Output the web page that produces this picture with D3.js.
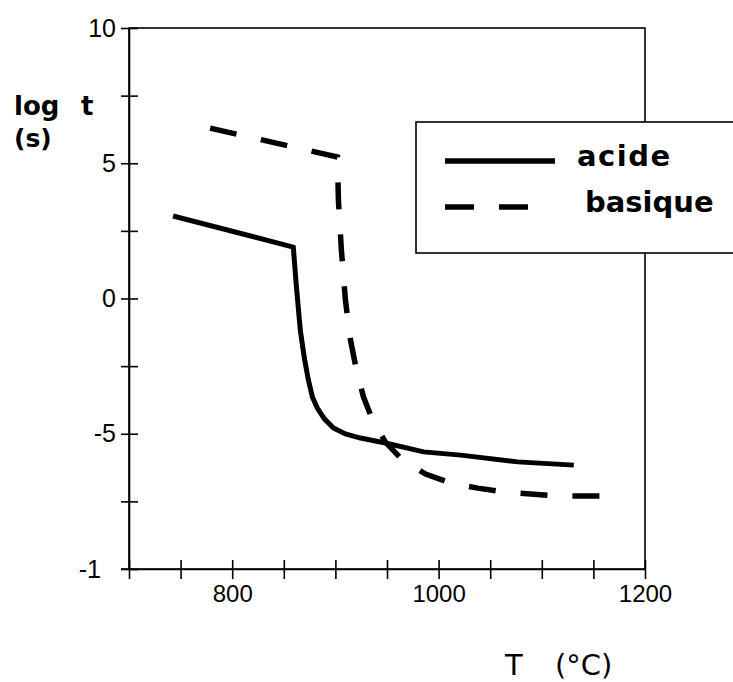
<!DOCTYPE html>
<html>
<head>
<meta charset="utf-8">
<script src="https://cdn.jsdelivr.net/npm/d3@7"></script>
<style>
  body { margin: 0; background: #fff; }
  svg { display: block; }
</style>
</head>
<body>
<div class="chart"></div>
<script>
// values (T in °C, log t in s)
var acideT = [742.7, 859.2, 862.1, 866.0, 869.9, 873.8, 877.7, 882.5, 889.3, 898.1, 909.7, 924.3, 948.5, 985.4, 1021.4, 1076.7, 1131];
var acideLog = [3.05, 1.90, 0.49, -1.17, -2.20, -3.01, -3.64, -4.05, -4.45, -4.79, -5.01, -5.16, -5.34, -5.67, -5.79, -6.04, -6.16];

var basiqueT = [778.6, 902, 902.9, 905.8, 909.7, 914.6, 920.4, 927.2, 935.9, 948.5, 965, 987.4, 1011.7, 1037.9, 1063.1, 1115.5, 1167];
var basiqueLog = [6.30, 5.23, 3.64, 1.79, -0.06, -1.53, -2.64, -3.64, -4.49, -5.31, -5.97, -6.49, -6.82, -7.01, -7.15, -7.30, -7.30];

var xTicks = [700, 750, 800, 850, 900, 950, 1000, 1050, 1100, 1150, 1200];
var xTickLabels = {800: "800", 1000: "1000", 1200: "1200"};
var yTicks = [-10, -7.5, -5, -2.5, 0, 2.5, 5, 7.5, 10];
var yTickLabels = {"10": "10", "5": "5", "0": "0", "-5": "-5", "-10": "-1"};

var legendNames = ["acide", "basique"];

var svgWidth = 733, svgHeight = 682;
var margin = {top: 28, left: 129, right: 88, bottom: 113};
var width = svgWidth - margin.left - margin.right;
var height = svgHeight - margin.top - margin.bottom;

var svg = d3.select(".chart").append("svg")
  .attr("width", svgWidth)
  .attr("height", svgHeight);

svg.append("rect").attr("width", svgWidth).attr("height", svgHeight).attr("fill", "#fff");

var chartGroup = svg.append("g")
  .attr("transform", `translate(${margin.left}, ${margin.top})`);

var xScale = d3.scaleLinear().domain([700, 1200]).range([0, width]);
var yScale = d3.scaleLinear().domain([-10, 10]).range([height, 0]);

// frame
chartGroup.append("rect")
  .attr("width", width)
  .attr("height", height)
  .attr("fill", "none")
  .attr("stroke", "#000")
  .attr("stroke-width", 1.6);

// y axis
var yAxis = d3.axisLeft(yScale)
  .tickValues(yTicks)
  .tickSizeInner(8)
  .tickSizeOuter(0)
  .tickPadding(5)
  .tickFormat(d => yTickLabels[String(d)] || "");

var yG = chartGroup.append("g").call(yAxis);
yG.select(".domain").attr("stroke-width", 1.6);
yG.selectAll(".tick line").attr("x1", 9).attr("stroke-width", 1.6);
yG.selectAll(".tick text")
  .attr("font-family", "'Liberation Sans', Arial, sans-serif")
  .attr("font-size", 25)
  .attr("fill", "#000")
  .attr("dx", d => d === -10 ? -15 : 0);

// x axis
var xAxis = d3.axisBottom(xScale)
  .tickValues(xTicks)
  .tickSizeInner(10)
  .tickSizeOuter(0)
  .tickPadding(6)
  .tickFormat(d => xTickLabels[d] || "");

var xG = chartGroup.append("g")
  .attr("transform", `translate(0, ${height})`)
  .call(xAxis);
xG.select(".domain").attr("stroke-width", 1.6);
xG.selectAll(".tick line").attr("y1", -9).attr("stroke-width", 1.6);
xG.selectAll(".tick text")
  .attr("font-family", "'Liberation Sans', Arial, sans-serif")
  .attr("font-size", 24)
  .attr("fill", "#000");

// extend x axis a little left of the y axis
chartGroup.append("line")
  .attr("x1", -8).attr("x2", 0)
  .attr("y1", height).attr("y2", height)
  .attr("stroke", "#000").attr("stroke-width", 1.6);

// curves
var line = d3.line()
  .x(d => xScale(d[0]))
  .y(d => yScale(d[1]));

var acide = acideT.map((t, i) => [t, acideLog[i]]);
var basique = basiqueT.map((t, i) => [t, basiqueLog[i]]);

chartGroup.append("path")
  .datum(basique)
  .attr("d", line)
  .attr("fill", "none")
  .attr("stroke", "#000")
  .attr("stroke-width", 5.5)
  .attr("stroke-dasharray", "27,25");

chartGroup.append("path")
  .datum(acide)
  .attr("d", line)
  .attr("fill", "none")
  .attr("stroke", "#000")
  .attr("stroke-width", 5)
  .attr("stroke-linejoin", "miter");

// legend box
var legend = svg.append("g").attr("transform", "translate(416, 122)");
legend.append("rect")
  .attr("width", 330)
  .attr("height", 131)
  .attr("fill", "#fff")
  .attr("stroke", "#000")
  .attr("stroke-width", 1.6);

legend.append("line")
  .attr("x1", 29).attr("x2", 139)
  .attr("y1", 39).attr("y2", 39)
  .attr("stroke", "#000").attr("stroke-width", 5.5);

legend.append("line")
  .attr("x1", 29).attr("x2", 112)
  .attr("y1", 85).attr("y2", 85)
  .attr("stroke", "#000").attr("stroke-width", 5.5)
  .attr("stroke-dasharray", "29,25");

legend.selectAll("text.name")
  .data(legendNames)
  .enter()
  .append("text")
  .attr("class", "name")
  .attr("x", (d, i) => i === 0 ? 161 : 169)
  .attr("y", (d, i) => i === 0 ? 44 : 90)
  .attr("font-family", "'DejaVu Sans', sans-serif")
  .attr("font-weight", "bold")
  .attr("font-size", 29)
  .attr("letter-spacing", (d, i) => i === 0 ? 1.5 : 0)
  .attr("fill", "#000")
  .text(d => d);

// axis titles
var titleFont = "'DejaVu Sans', sans-serif";
svg.append("text")
  .attr("x", 14).attr("y", 115)
  .attr("font-family", titleFont)
  .attr("font-weight", "bold")
  .attr("font-size", 26)
  .text("log");
svg.append("text")
  .attr("x", 81).attr("y", 115)
  .attr("font-family", titleFont)
  .attr("font-weight", "bold")
  .attr("font-size", 26)
  .text("t");
svg.append("text")
  .attr("x", 14).attr("y", 147)
  .attr("font-family", titleFont)
  .attr("font-weight", "bold")
  .attr("font-size", 25)
  .text("(s)");

svg.append("text")
  .attr("x", 505).attr("y", 675)
  .attr("font-family", titleFont)
  .attr("font-size", 29)
  .text("T");
svg.append("text")
  .attr("x", 555).attr("y", 675)
  .attr("font-family", titleFont)
  .attr("font-size", 29)
  .text("(°C)");
</script>
</body>
</html>
